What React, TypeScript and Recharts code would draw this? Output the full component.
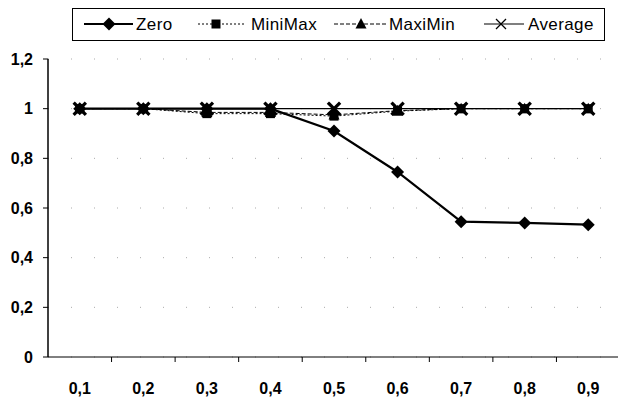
import React from 'react';
import { LineChart, Line, XAxis, YAxis, CartesianGrid, Legend } from 'recharts';

const categories = ['0,1', '0,2', '0,3', '0,4', '0,5', '0,6', '0,7', '0,8', '0,9'];
const zero = [1, 1, 1, 1, 0.91, 0.745, 0.545, 0.54, 0.533];
const miniMax = [1, 1, 0.98, 0.98, 0.97, 0.99, 1, 1, 1];
const maxiMin = [1, 1, 0.985, 0.985, 0.975, 0.992, 1, 1, 1];
const average = [1, 1, 1, 1, 1, 1, 1, 1, 1];
const yTicks = [0, 0.2, 0.4, 0.6, 0.8, 1, 1.2];
const seriesNames = ['Zero', 'MiniMax', 'MaxiMin', 'Average'];

const data = categories.map((c, i) => ({
  cat: c,
  Zero: zero[i],
  MiniMax: miniMax[i],
  MaxiMin: maxiMin[i],
  Average: average[i],
}));

const FONT = '"Liberation Sans", Arial, sans-serif';

const Diamond = ({ cx, cy }: any) => (
  <path d={`M${cx},${cy - 6.5} L${cx + 6.5},${cy} L${cx},${cy + 6.5} L${cx - 6.5},${cy} Z`} fill="#000" />
);
const Square = ({ cx, cy }: any) => <rect x={cx - 4.5} y={cy - 4.5} width={9} height={9} fill="#000" />;
const Triangle = ({ cx, cy }: any) => (
  <path d={`M${cx},${cy - 6} L${cx + 5.5},${cy + 4.5} L${cx - 5.5},${cy + 4.5} Z`} fill="#000" />
);
const Cross = ({ cx, cy }: any) => (
  <g stroke="#000" strokeWidth={3.2} strokeLinecap="square">
    <line x1={cx - 5} y1={cy - 5} x2={cx + 5} y2={cy + 5} />
    <line x1={cx - 5} y1={cy + 5} x2={cx + 5} y2={cy - 5} />
  </g>
);

const XTick = (props: any) => {
  const { x, y, payload, bw } = props;
  return (
    <g>
      <line x1={x + bw / 2} y1={y - 8} x2={x + bw / 2} y2={y - 3} stroke="#000" strokeWidth={1} />
      <text x={x} y={y + 29} textAnchor="middle" fontFamily={FONT} fontSize={16} fontWeight="bold" fill="#000">
        {payload.value}
      </text>
    </g>
  );
};

const LegendBox = () => {
  const layout = [
    { x: 11, w: 49, mx: 36, tx: 63, dash: undefined, sw: 2.2, mk: 'd' },
    { x: 125, w: 48, mx: 143, tx: 178, dash: '2 2', sw: 1, mk: 's' },
    { x: 261, w: 52, mx: 288, tx: 316, dash: '4 2', sw: 1, mk: 't' },
    { x: 411, w: 40, mx: 428, tx: 455, dash: undefined, sw: 1.2, mk: 'x' },
  ];
  const cy = 15;
  return (
    <div style={{ width: 533, height: 33, border: '1px solid #000', boxSizing: 'border-box', background: '#fff' }}>
      <svg width={531} height={31} style={{ display: 'block' }}>
        {layout.map((it, i) => (
          <g key={seriesNames[i]}>
            <line x1={it.x} y1={cy} x2={it.x + it.w} y2={cy} stroke="#000" strokeWidth={it.sw} strokeDasharray={it.dash} />
            {it.mk === 'd' && <Diamond cx={it.mx} cy={cy} />}
            {it.mk === 's' && <Square cx={it.mx} cy={cy} />}
            {it.mk === 't' && <Triangle cx={it.mx} cy={cy} />}
            {it.mk === 'x' && (
              <g stroke="#000" strokeWidth={1.3}>
                <line x1={it.mx - 5} y1={cy - 5} x2={it.mx + 5} y2={cy + 5} />
                <line x1={it.mx - 5} y1={cy + 5} x2={it.mx + 5} y2={cy - 5} />
              </g>
            )}
            <text x={it.tx} y={cy + 6} fontFamily={FONT} fontSize={17} letterSpacing={0.4} fill="#000">
              {seriesNames[i]}
            </text>
          </g>
        ))}
      </svg>
    </div>
  );
};

export default function App() {
  const chartW = 630;
  const left = 48;
  const right = 620;
  const bw = (right - left) / categories.length;
  return (
    <div style={{ position: 'absolute', left: 0, top: 0, width: 618, height: 398, overflow: 'hidden', background: '#fff' }}>
      <LineChart width={chartW} height={398} data={data} margin={{ top: 59, right: chartW - right, bottom: 0, left: 0 }}>
        <CartesianGrid vertical={false} stroke="#aaa" strokeDasharray="1 22" />
        <XAxis
          dataKey="cat"
          scale="band"
          height={41}
          tickLine={false}
          axisLine={{ stroke: '#000', strokeWidth: 1 }}
          interval={0}
          tick={<XTick bw={bw} />}
        />
        <YAxis
          width={48}
          domain={[0, 1.2]}
          ticks={yTicks}
          tickSize={5}
          tickMargin={10}
          axisLine={{ stroke: '#000', strokeWidth: 1.5 }}
          tickLine={{ stroke: '#000' }}
          tickFormatter={(v: number) => String(v).replace('.', ',')}
          tick={{ fontFamily: FONT, fontSize: 16, fontWeight: 'bold', fill: '#000' }}
        />
        <Legend
          verticalAlign="middle"
          align="center"
          layout="horizontal"
          content={() => <LegendBox />}
          wrapperStyle={{ position: 'absolute', top: 8, left: 72, width: 533, height: 33 }}
        />
        <Line dataKey="MiniMax" stroke="#000" strokeWidth={1} strokeDasharray="2 2" dot={<Square />} isAnimationActive={false} />
        <Line dataKey="MaxiMin" stroke="#000" strokeWidth={1} strokeDasharray="4 2" dot={<Triangle />} isAnimationActive={false} />
        <Line dataKey="Zero" stroke="#000" strokeWidth={2.2} dot={<Diamond />} isAnimationActive={false} />
        <Line dataKey="Average" stroke="#000" strokeWidth={1.3} dot={<Cross />} isAnimationActive={false} />
      </LineChart>
    </div>
  );
}
